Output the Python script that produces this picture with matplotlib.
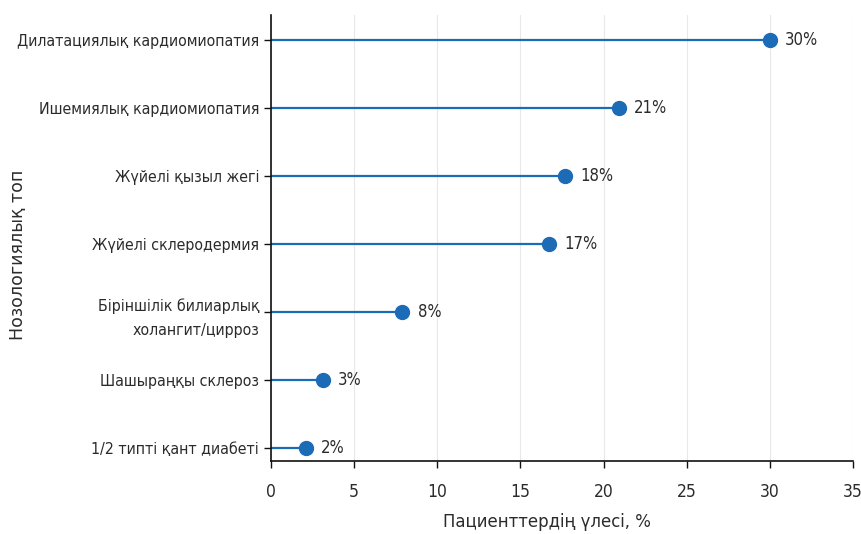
import matplotlib
matplotlib.use("Agg")
import matplotlib.pyplot as plt
from matplotlib import font_manager

# Nosological groups (top to bottom) and share of patients, %
categories = [
    "Дилатациялық кардиомиопатия",
    "Ишемиялық кардиомиопатия",
    "Жүйелі қызыл жегі",
    "Жүйелі склеродермия",
    "Біріншілік билиарлық\nхолангит/цирроз",
    "Шашыраңқы склероз",
    "1/2 типті қант диабеті",
]
shares = [30.0, 20.9, 17.7, 16.7, 7.9, 3.1, 2.1]
x_ticks = [0, 5, 10, 15, 20, 25, 30, 35]

condensed = any("DejaVuSansCondensed" in f.fname
                for f in font_manager.fontManager.ttflist)
plt.rcParams["font.family"] = ["DejaVu Sans"]
narrow = "condensed" if condensed else "normal"

color = "#1c6bb6"
text_color = "#2b2b2b"

fig = plt.figure(figsize=(8.62, 5.34), dpi=100)
ax = fig.add_axes([271 / 862, 1 - 461 / 534, (853 - 271) / 862, (461 - 15) / 534])

ypos = list(range(len(categories)))
ax.hlines(ypos, 0, shares, color=color, linewidth=1.6, zorder=2)
ax.plot(shares, ypos, "o", color=color, markersize=10, zorder=3)
for y, v in zip(ypos, shares):
    ax.annotate(f"{round(v)}%", (v, y), xytext=(11, 0), textcoords="offset points",
                va="center", ha="left", fontsize=12, fontstretch=narrow,
                color=text_color)

ax.set_yticks(ypos)
ax.set_yticklabels(categories, fontsize=11.4, fontstretch=narrow, color=text_color,
                   ha="right", multialignment="right", linespacing=1.75)
ax.set_xticks(x_ticks)
ax.set_xticklabels([str(t) for t in x_ticks], fontsize=12.5, fontstretch=narrow,
                   color=text_color)
ax.set_xlim(0, 35)
ax.set_ylim(6.19, -0.37)

ax.grid(axis="x", color="#e8e8e8", linewidth=0.8, zorder=0)
ax.set_axisbelow(True)
for side in ("top", "right"):
    ax.spines[side].set_visible(False)
for side in ("left", "bottom"):
    ax.spines[side].set_linewidth(1.2)
    ax.spines[side].set_color("#111111")
ax.tick_params(axis="both", length=5, width=1, color="#111111")
ax.tick_params(axis="x", pad=11)

ax.set_xlabel("Пациенттердің үлесі, %", fontsize=13.2, fontstretch=narrow,
              color=text_color)
ax.xaxis.set_label_coords((547 - 271) / 582, -(522 - 461) / 446)
ax.xaxis.label.set_va("center")
ax.set_ylabel("Нозологиялық топ", fontsize=12.5, color=text_color)
ax.yaxis.set_label_coords(-(271 - 18) / 582, (461 - 255) / 446)
ax.yaxis.label.set_va("center")

fig.savefig("out.png", dpi=100)
